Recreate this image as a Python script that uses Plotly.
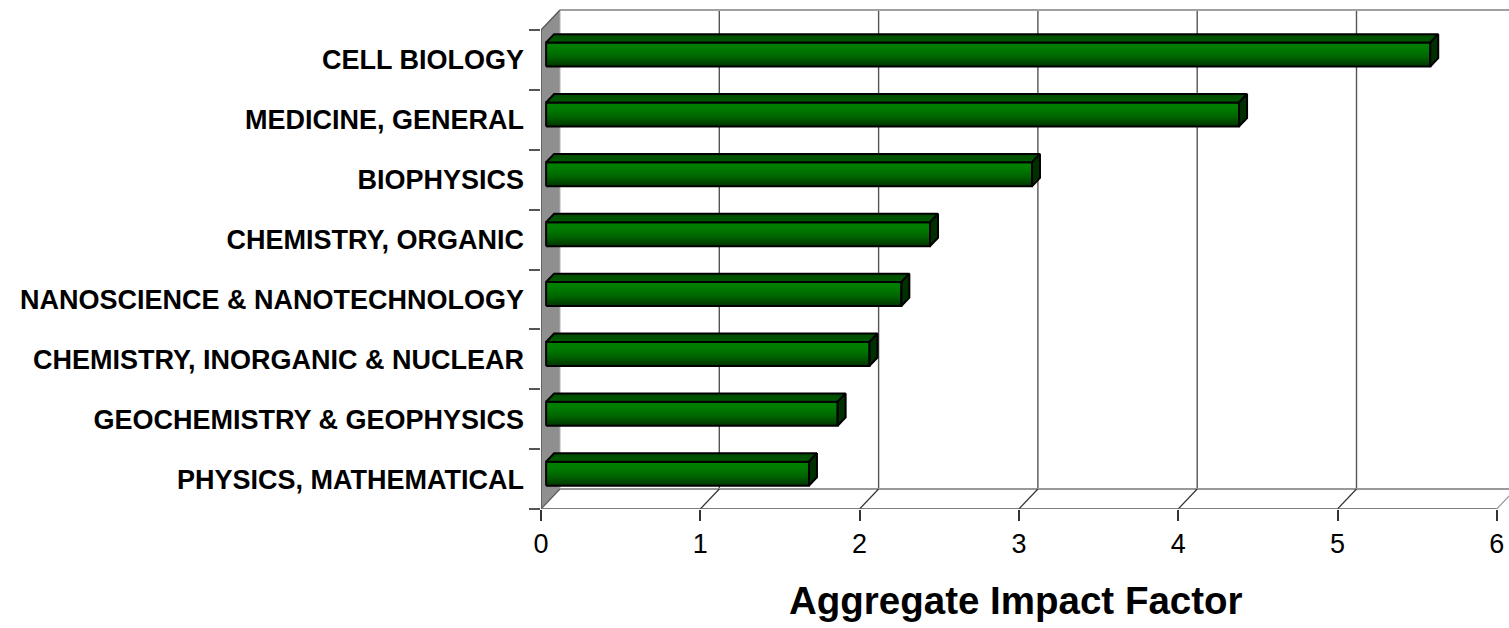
import plotly.graph_objects as go

# Aggregate impact factor by subject category (top to bottom as listed)
categories = [
    "CELL BIOLOGY",
    "MEDICINE, GENERAL",
    "BIOPHYSICS",
    "CHEMISTRY, ORGANIC",
    "NANOSCIENCE & NANOTECHNOLOGY",
    "CHEMISTRY, INORGANIC & NUCLEAR",
    "GEOCHEMISTRY & GEOPHYSICS",
    "PHYSICS, MATHEMATICAL",
]
impact = [5.55, 4.35, 3.05, 2.41, 2.23, 2.03, 1.83, 1.65]
x_ticks = [0, 1, 2, 3, 4, 5, 6]

FONT = "Liberation Sans, Arial, sans-serif"

# Pseudo-3D projection: depth shifts points right and up (in axis units)
W, H = 1509, 628
M_L, M_R, M_T, M_B = 541, 0, 8, 119
PX_X = 159.3            # pixels per unit of impact factor
PX_Y = 59.875           # pixels per category slot
X_MAX = (W - M_L - M_R) / PX_X
Y_MIN = -0.5
Y_MAX = Y_MIN + (H - M_T - M_B) / PX_Y
DX = 19 / PX_X          # full depth, horizontal
DY = 20 / PX_Y          # full depth, vertical
F_FRONT, F_BACK = 0.27, 0.69   # bar depth (front / back face)
HALF = 0.2              # bar half-thickness in category units
n = len(categories)
y_top = n - 0.5
x_end = x_ticks[-1]


def proj(x, y, f):
    return x + f * DX, y + f * DY


def path(points):
    return "M " + " L ".join(f"{px},{py}" for px, py in points) + " Z"


shapes = []

# floor
floor = [proj(0, Y_MIN, 0), proj(x_end, Y_MIN, 0), proj(x_end, Y_MIN, 1), proj(0, Y_MIN, 1)]
shapes.append(dict(type="path", path=path(floor), fillcolor="white",
                   line=dict(width=0), layer="below"))
# left wall
wall = [proj(0, Y_MIN, 0), proj(0, y_top, 0), proj(0, y_top, 1), proj(0, Y_MIN, 1)]
shapes.append(dict(type="path", path=path(wall), fillcolor="#8f8f8f",
                   line=dict(width=0), layer="below"))


def seg(p0, p1, color, width):
    shapes.append(dict(type="line", x0=p0[0], y0=p0[1], x1=p1[0], y1=p1[1],
                       line=dict(color=color, width=width), layer="below"))


# back-wall gridlines
for k in x_ticks[1:]:
    seg(proj(k, Y_MIN, 1), proj(k, y_top, 1), "#555555", 1.4)
# back-wall top edge and wall back edge
seg(proj(0, y_top, 1), proj(x_end + 0.5, y_top, 1), "#a0a0a0", 2)
seg(proj(0, Y_MIN, 1), proj(0, y_top, 1), "#b0b0b0", 1)
# floor back edge
seg(proj(0, Y_MIN, 1), proj(x_end, Y_MIN, 1), "#999999", 2)
# floor depth lines at each tick
for k in x_ticks[1:]:
    col = "#999999" if k == x_end else "#333333"
    seg(proj(k, Y_MIN, 0), proj(k, Y_MIN, 1), col, 1.2)
# floor front edge
seg(proj(0, Y_MIN, 0), proj(x_end, Y_MIN, 0), "#555555", 1.6)
# wall front and top edges
seg(proj(0, Y_MIN, 0), proj(0, y_top, 0), "#5a5a5a", 1.6)
seg(proj(0, y_top, 0), proj(0, y_top, 1), "#5a5a5a", 1.4)
seg(proj(0, Y_MIN, 0), proj(0, Y_MIN, 1), "#5a5a5a", 1.2)

fig = go.Figure()

front_scale = [[0, "#003500"], [0.4, "#006400"], [0.75, "#007c00"], [1, "#008000"]]
top_scale = [[0, "#005a00"], [1, "#004a00"]]
outline = dict(color="black", width=2)

for i, (cat, v) in enumerate(zip(categories, impact)):
    yc = n - 1 - i
    y0, y1 = yc - HALF, yc + HALF
    faces = [
        # front
        ([proj(0, y0, F_FRONT), proj(v, y0, F_FRONT), proj(v, y1, F_FRONT), proj(0, y1, F_FRONT)],
         dict(fillgradient=dict(type="vertical", colorscale=front_scale))),
        # top
        ([proj(0, y1, F_FRONT), proj(v, y1, F_FRONT), proj(v, y1, F_BACK), proj(0, y1, F_BACK)],
         dict(fillgradient=dict(type="vertical", colorscale=top_scale))),
        # end cap
        ([proj(v, y0, F_FRONT), proj(v, y0, F_BACK), proj(v, y1, F_BACK), proj(v, y1, F_FRONT)],
         dict(fillcolor="#003000")),
    ]
    for pts, fill in faces:
        xs = [p[0] for p in pts] + [pts[0][0]]
        ys = [p[1] for p in pts] + [pts[0][1]]
        fig.add_trace(go.Scatter(x=xs, y=ys, mode="lines", fill="toself",
                                 line=outline, hoverinfo="skip",
                                 showlegend=False, name=cat, **fill))

fig.update_layout(
    width=W, height=H,
    margin=dict(l=M_L, r=M_R, t=M_T, b=M_B),
    paper_bgcolor="white", plot_bgcolor="white",
    shapes=shapes,
    font=dict(family=FONT, color="black"),
    xaxis=dict(
        range=[0, X_MAX], showgrid=False, zeroline=False, showline=False,
        tickmode="array", tickvals=x_ticks, ticktext=[str(t) for t in x_ticks],
        ticks="outside", ticklen=11, tickwidth=1.5, tickcolor="#333333",
        tickfont=dict(size=27, family=FONT, color="black"),
        fixedrange=True,
    ),
    yaxis=dict(
        range=[Y_MIN, Y_MAX], showgrid=False, zeroline=False, showline=False,
        tickmode="array", tickvals=list(range(n)),
        ticktext=list(reversed(categories)),
        ticks="", ticklabelstandoff=16,
        tickfont=dict(size=27, family=FONT, color="black", weight="bold"),
        minor=dict(tickmode="array", tickvals=[k - 0.5 for k in range(n + 1)],
                   ticks="outside", ticklen=11, tickwidth=1.5, tickcolor="#555555",
                   showgrid=False),
        fixedrange=True,
    ),
    annotations=[dict(
        text="<b>Aggregate Impact Factor</b>", xref="x", yref="paper",
        x=2.98, y=-(600 - 509) / (H - M_T - M_B), xanchor="center", yanchor="middle",
        showarrow=False, font=dict(size=38.5, family=FONT, color="black"),
    )],
)

fig.write_html("out.html")
